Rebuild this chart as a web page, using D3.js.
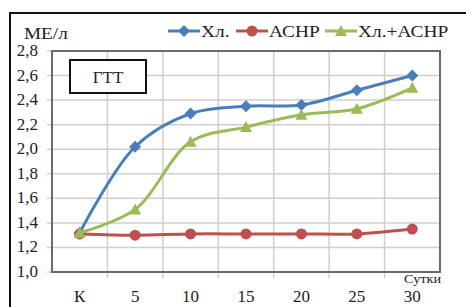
<!DOCTYPE html>
<html>
<head>
<meta charset="utf-8">
<script src="https://cdn.jsdelivr.net/npm/d3@7"></script>
<style>
  body { margin: 0; background: #fff; }
</style>
</head>
<body>
<svg id="chart" width="466" height="307"></svg>
<script>
// Data
var categories = ["К", "5", "10", "15", "20", "25", "30"];
var xl = [1.32, 2.02, 2.29, 2.35, 2.36, 2.48, 2.60];       // Хл.
var asnr = [1.31, 1.30, 1.31, 1.31, 1.31, 1.31, 1.35];     // АСНР
var xlAsnr = [1.32, 1.51, 2.06, 2.18, 2.28, 2.33, 2.50];   // Хл.+АСНР
var yTicks = [1.0, 1.2, 1.4, 1.6, 1.8, 2.0, 2.2, 2.4, 2.6, 2.8];

var series = [
  { name: "Хл.", values: xl, color: "#4a7ebb", marker: "diamond" },
  { name: "АСНР", values: asnr, color: "#c0504d", marker: "circle" },
  { name: "Хл.+АСНР", values: xlAsnr, color: "#9bbb59", marker: "triangle" }
];

var FONT = "'Liberation Serif', 'Times New Roman', serif";

var svg = d3.select("#chart");
var plot = { left: 52, top: 51, right: 440, bottom: 272 };

// Outer frame (cut off on the right and bottom)
svg.append("rect")
  .attr("x", 10).attr("y", 13)
  .attr("width", 480).attr("height", 320)
  .attr("fill", "none").attr("stroke", "#111").attr("stroke-width", 2);

var x = d3.scaleBand().domain(categories).range([plot.left, plot.right]);
var y = d3.scaleLinear().domain([1.0, 2.8]).range([plot.bottom, plot.top]);

var g = svg.append("g");

// Horizontal gridlines
g.selectAll(".hgrid").data(yTicks).enter()
  .append("line")
  .attr("x1", plot.left - 5).attr("x2", plot.right)
  .attr("y1", function (d) { return y(d); })
  .attr("y2", function (d) { return y(d); })
  .attr("stroke", "#cfcfcf").attr("stroke-width", 1.5);

// Vertical gridlines at band boundaries
var bounds = categories.slice(1).map(function (c) { return x(c); });
g.selectAll(".vgrid").data(bounds).enter()
  .append("line")
  .attr("x1", function (d) { return d; }).attr("x2", function (d) { return d; })
  .attr("y1", plot.top).attr("y2", plot.bottom + 6)
  .attr("stroke", "#cfcfcf").attr("stroke-width", 1.5);

// Plot frame
g.append("rect")
  .attr("x", plot.left).attr("y", plot.top)
  .attr("width", plot.right - plot.left).attr("height", plot.bottom - plot.top)
  .attr("fill", "none").attr("stroke", "#6a6a6a").attr("stroke-width", 2);

function label(sel, size) {
  return sel.attr("font-size", size)
    .attr("font-family", FONT)
    .attr("fill", "#222");
}

// Stretch a text horizontally a bit, the reference glyphs are wider
function widen(sel, k) {
  sel.each(function () {
    var w = this.getComputedTextLength();
    d3.select(this).attr("textLength", w * k).attr("lengthAdjust", "spacingAndGlyphs");
  });
  return sel;
}

// Y tick labels
var fmt = function (d) { return d.toFixed(1).replace(".", ","); };
label(g.selectAll(".ylab").data(yTicks).enter()
  .append("text")
  .attr("x", 38).attr("y", function (d) { return y(d) + 5; })
  .attr("text-anchor", "end"), 17)
  .text(fmt);

// X tick labels
label(g.selectAll(".xlab").data(categories).enter()
  .append("text")
  .attr("x", function (d) { return x(d) + x.bandwidth() / 2; })
  .attr("y", 302)
  .attr("text-anchor", "middle"), 17)
  .text(function (d) { return d; });

widen(label(svg.append("text").attr("x", 24).attr("y", 39), 17).text("МЕ/л"), 1.13);
widen(label(svg.append("text").attr("x", 404).attr("y", 283), 13).text("Сутки"), 1.1);

// ГТТ box
svg.append("rect")
  .attr("x", 70).attr("y", 60).attr("width", 76).attr("height", 33)
  .attr("fill", "#fff").attr("stroke", "#111").attr("stroke-width", 2);
label(svg.append("text").attr("x", 108).attr("y", 83)
  .attr("text-anchor", "middle"), 17).text("ГТТ");

// Lines
var line = d3.line()
  .x(function (d, i) { return x(categories[i]) + x.bandwidth() / 2; })
  .y(function (d) { return y(d); })
  .curve(d3.curveCatmullRom.alpha(0.5));

function drawMarker(sel, type, color, cx, cy) {
  if (type === "diamond") {
    sel.append("path")
      .attr("d", "M" + cx + "," + (cy - 6) + "L" + (cx + 6) + "," + cy + "L" + cx + "," + (cy + 6) + "L" + (cx - 6) + "," + cy + "Z")
      .attr("fill", color);
  } else if (type === "circle") {
    sel.append("circle").attr("cx", cx).attr("cy", cy).attr("r", 5.5).attr("fill", color);
  } else {
    sel.append("path")
      .attr("d", "M" + cx + "," + (cy - 6) + "L" + (cx + 6) + "," + (cy + 5) + "L" + (cx - 6) + "," + (cy + 5) + "Z")
      .attr("fill", color);
  }
}

series.forEach(function (s) {
  var sg = g.append("g");
  sg.append("path")
    .datum(s.values)
    .attr("d", line)
    .attr("fill", "none")
    .attr("stroke", s.color)
    .attr("stroke-width", 3);
  s.values.forEach(function (v, i) {
    drawMarker(sg, s.marker, s.color, x(categories[i]) + x.bandwidth() / 2, y(v));
  });
});

// Legend
var legendX = [168, 236, 325];
series.forEach(function (s, i) {
  var lg = svg.append("g");
  var lx = legendX[i];
  lg.append("line")
    .attr("x1", lx).attr("x2", lx + 32)
    .attr("y1", 31).attr("y2", 31)
    .attr("stroke", s.color).attr("stroke-width", 3);
  drawMarker(lg, s.marker, s.color, lx + 16, 31);
  widen(label(lg.append("text")
    .attr("x", lx + 33).attr("y", 37), 17)
    .text(s.name), 1.14);
});
</script>
</body>
</html>
